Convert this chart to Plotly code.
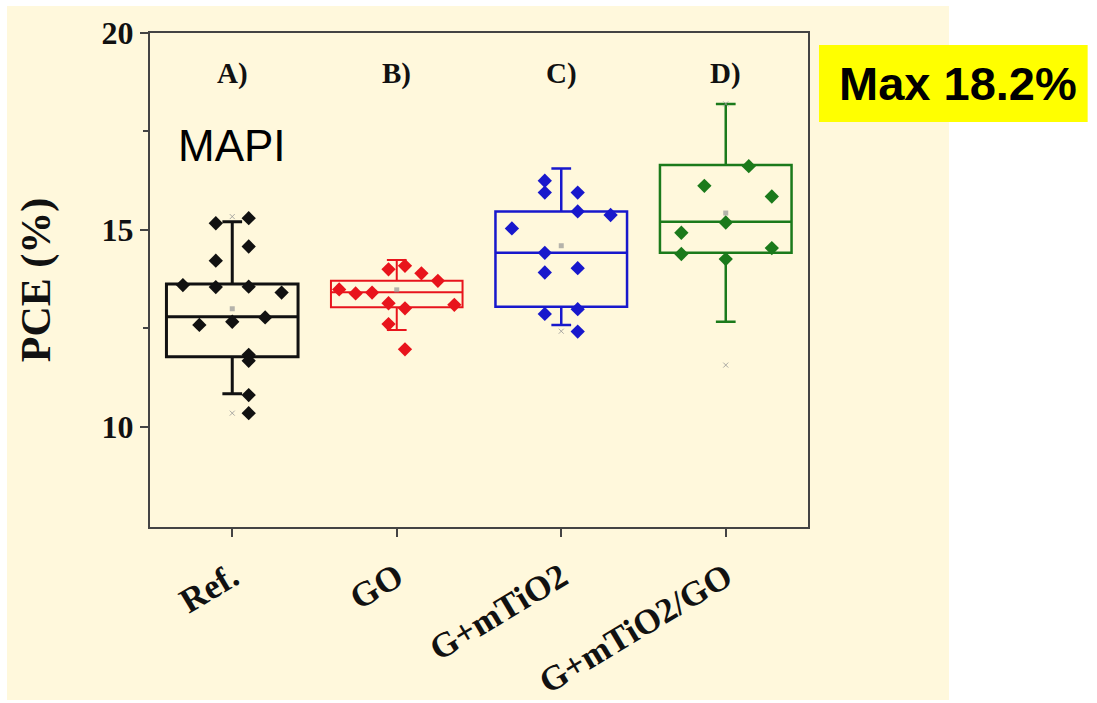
import plotly.graph_objects as go

# ---- data -------------------------------------------------------------
categories = ["Ref.", "GO", "G+mTiO2", "G+mTiO2/GO"]
panel_tags = ["A)", "B)", "C)", "D)"]
colors = ["#111111", "#E8141C", "#1818CC", "#1B7A1B"]

# box statistics per device type (PCE, %)
q1 = [11.78, 13.04, 13.05, 14.42]
median = [12.80, 13.42, 14.42, 15.21]
q3 = [13.63, 13.71, 15.47, 16.65]
lower_whisker = [10.84, 12.46, 12.59, 12.67]
upper_whisker = [15.21, 14.24, 16.56, 18.20]
mean_pce = [13.00, 13.48, 14.60, 15.43]
min_pce = [10.35, None, 12.43, 11.57]
max_pce = [15.34, None, None, 18.20]

# individual cell efficiencies
ref_pce = [15.17, 15.30, 14.58, 14.22, 13.60, 13.55, 13.56, 13.41,
           12.59, 12.67, 12.78, 11.83, 11.68, 10.81, 10.35]
go_pce = [13.49, 13.39, 13.41, 14.00, 14.09, 13.90, 13.71,
          13.14, 13.01, 13.10, 12.61, 11.97]
gm_pce = [16.25, 15.95, 15.95, 15.47, 15.38, 15.04, 14.42,
          13.92, 14.03, 12.99, 12.87, 12.42]
gmgo_pce = [16.62, 16.12, 15.85, 15.19, 14.93, 14.39, 14.54, 14.26]

# lateral slot of each point inside its box (fraction of category width)
ref_dx = [-0.1, 0.1, 0.1, -0.1, -0.3, -0.1, 0.1, 0.3,
          -0.2, 0.0, 0.2, 0.1, 0.1, 0.1, 0.1]
go_dx = [-0.35, -0.25, -0.15, -0.05, 0.05, 0.15, 0.25,
         -0.05, 0.05, 0.35, -0.05, 0.05]
gm_dx = [-0.1, -0.1, 0.1, 0.1, 0.3, -0.3, -0.1,
         -0.1, 0.1, 0.1, -0.1, 0.1]
gmgo_dx = [0.14, -0.13, 0.28, 0.0, -0.27, -0.27, 0.28, 0.0]

points = [ref_pce, go_pce, gm_pce, gmgo_pce]
offsets = [ref_dx, go_dx, gm_dx, gmgo_dx]
line_widths = [3, 2, 2.5, 2.5]

SERIF = "Liberation Serif"
CREAM = "#FFF8DC"

fig = go.Figure()

for i, name in enumerate(categories):
    fig.add_trace(go.Box(
        x=[i], q1=[q1[i]], median=[median[i]], q3=[q3[i]],
        lowerfence=[lower_whisker[i]], upperfence=[upper_whisker[i]],
        width=0.8, whiskerwidth=0.15, boxpoints=False,
        line=dict(color=colors[i], width=line_widths[i]),
        fillcolor="rgba(0,0,0,0)", name=name, showlegend=False,
        hoverinfo="skip",
    ))
    fig.add_trace(go.Scatter(
        x=[i + d for d in offsets[i]], y=points[i], mode="markers",
        marker=dict(symbol="diamond", size=11, color=colors[i]),
        showlegend=False, hoverinfo="y",
    ))
    # mean marker
    fig.add_trace(go.Scatter(
        x=[i], y=[mean_pce[i]], mode="markers",
        marker=dict(symbol="square", size=5, color="rgba(150,150,150,0.7)"),
        showlegend=False, hoverinfo="y",
    ))
    # min / max markers
    ext = [v for v in (min_pce[i], max_pce[i]) if v is not None]
    if ext:
        fig.add_trace(go.Scatter(
            x=[i] * len(ext), y=ext, mode="markers",
            marker=dict(symbol="x-thin", size=5,
                        line=dict(width=1, color="rgba(150,150,150,0.8)")),
            showlegend=False, hoverinfo="y",
        ))

# panel tags above each box
for i, tag in enumerate(panel_tags):
    fig.add_annotation(x=i, y=18.97, text=tag, showarrow=False,
                       font=dict(family=SERIF, size=29, color="#111111",
                                 weight="bold"))

fig.add_annotation(x=0, y=17.15, text="MAPI", showarrow=False,
                   font=dict(family="Liberation Sans", size=44, color="#000000"))

# highlighted maximum value
fig.add_shape(type="rect", xref="paper", yref="paper",
              x0=1.0167, x1=1.425, y0=0.8198, y1=0.9757,
              fillcolor="#FFFF00", line=dict(width=0), layer="above")
fig.add_annotation(xref="paper", yref="paper", x=1.2287, y=0.897,
                   xanchor="center", yanchor="middle",
                   text="<b>Max 18.2%</b>", showarrow=False,
                   font=dict(family="Liberation Sans", size=47, color="#000000"))

# cream panel behind the chart
fig.add_shape(type="rect", xref="paper", yref="paper",
              x0=-0.2173, x1=1.2143, y0=-0.3502, y1=1.0547,
              fillcolor=CREAM, line=dict(width=0), layer="below")

axis_color = "#444444"
fig.update_xaxes(
    range=[-0.5, 3.5], tickmode="array", tickvals=[0, 1, 2, 3],
    ticktext=categories, tickangle=-31, ticks="outside", ticklen=8,
    tickwidth=2, tickcolor=axis_color, showline=True, mirror=True,
    linecolor=axis_color, linewidth=2, showgrid=False, zeroline=False,
    ticklabelstandoff=6, automargin=False,
    tickfont=dict(family=SERIF, size=35, color="#111111", weight="bold"),
)
fig.update_yaxes(
    range=[7.46, 20], tickmode="array", tickvals=[10, 15, 20],
    ticks="outside", ticklen=8, tickwidth=2, tickcolor=axis_color,
    minor=dict(tickmode="array", tickvals=[12.5, 17.5], ticks="outside",
               ticklen=5, tickwidth=2, tickcolor=axis_color),
    showline=True, mirror=True, linecolor=axis_color, linewidth=2,
    showgrid=False, zeroline=False, automargin=False,
    tickfont=dict(family=SERIF, size=32, color="#111111", weight="bold"),
    title=dict(text="PCE (%)", standoff=38,
               font=dict(family=SERIF, size=42, color="#111111", weight="bold")),
)

fig.update_layout(
    width=1097, height=703,
    margin=dict(l=150, r=289, t=33, b=176),
    paper_bgcolor="#FFFFFF", plot_bgcolor="rgba(0,0,0,0)",
    showlegend=False,
)

fig.write_html("out.html")
